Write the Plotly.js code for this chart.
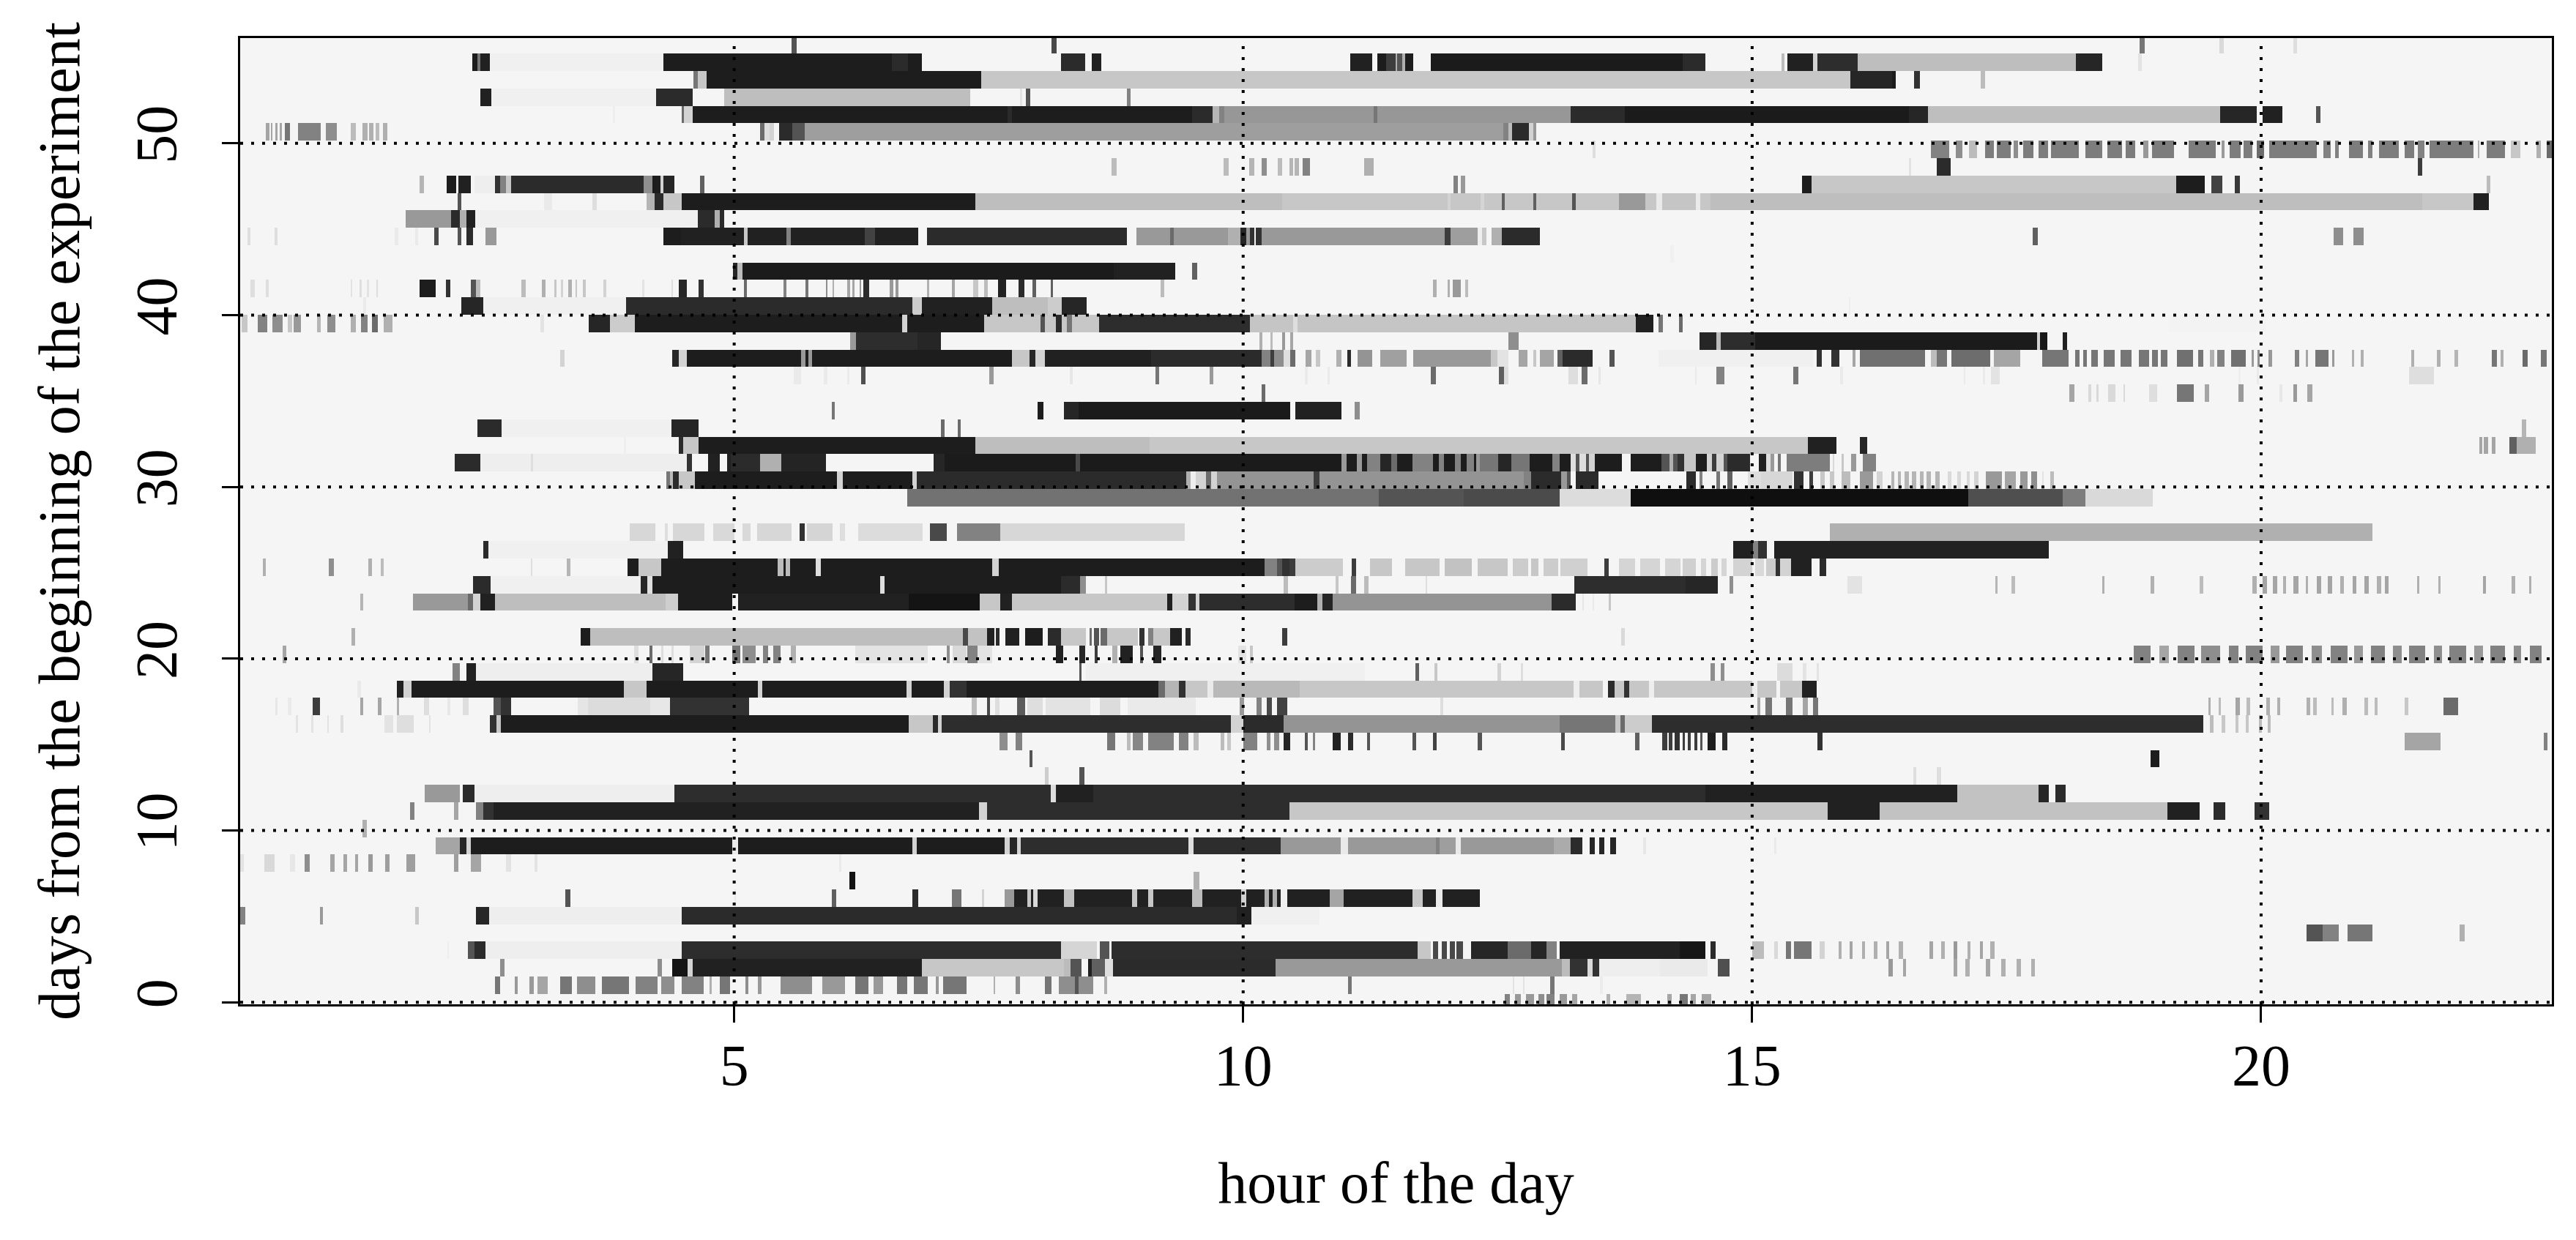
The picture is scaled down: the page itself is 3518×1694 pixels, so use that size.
<!DOCTYPE html>
<html>
<head>
<meta charset="utf-8">
<script src="https://cdn.plot.ly/plotly-3.0.1.min.js"></script>
<style>html,body{margin:0;padding:0;background:#fff}#chart{width:3518px;height:1694px}</style>
</head>
<body>
<div id="chart"></div>
<script>
// each day: flat list of [start hour, end hour, activity level 0-100], later runs overwrite earlier ones
const day55=[[5.57,5.62,70],[8.12,8.17,75],[18.81,18.86,55],[19.59,19.63,12],[20.32,20.36,10]];
const day54=[[2.424,2.475,94],[2.475,2.512,55],[2.512,2.6,92],[2.6,4.31,2],[4.31,6.55,94],[6.55,6.71,88],[6.71,6.84,94],[8.21,8.45,88],[8.52,8.61,92],[11.05,11.27,92],[11.32,11.41,94],[11.41,11.5,80],[11.5,11.52,30],[11.52,11.57,70],[11.57,11.59,30],[11.59,11.675,94],[11.84,14.32,95],[14.32,14.54,88],[15.29,15.32,25],[15.35,15.6,92],[15.6,15.64,15],[15.64,16.04,87],[16.04,18.18,24],[18.18,18.44,90],[18.79,18.83,8]];
const day53=[[4.6,4.64,55],[4.64,4.73,20],[4.73,7.425,94],[7.425,15.97,20],[15.97,16.375,90],[16.375,16.42,94],[16.59,16.65,85],[17.25,17.29,25]];
const day52=[[2.51,2.62,92],[2.62,4.23,2],[4.23,4.59,88],[4.9,7.315,24],[7.81,7.83,8],[7.87,7.91,70],[8.86,8.89,50]];
const day51=[[3.81,3.83,3],[4.48,4.51,60],[4.51,4.59,15],[4.59,9.5,94],[7.68,7.73,88],[9.5,9.7,88],[9.7,9.77,28],[9.77,9.82,50],[9.82,13.217,41],[11.28,11.32,55],[13.217,13.75,88],[13.75,16.54,95],[16.54,16.73,90],[16.73,19.6,24],[19.6,19.96,90],[20.02,20.21,92],[20.54,20.58,70]];
const day50=[[0.397,0.43,35],[0.45,0.47,35],[0.49,0.515,35],[0.53,0.56,35],[0.58,0.632,55],[0.713,0.94,50],[0.99,1.1,45],[1.235,1.28,25],[1.35,1.396,30],[1.418,1.455,30],[1.477,1.513,25],[1.55,1.594,30],[5.26,5.3,60],[5.3,5.35,10],[5.35,5.39,15],[5.44,5.577,88],[5.577,5.69,70],[5.69,12.556,38],[12.556,12.61,50],[12.61,12.64,25],[12.64,12.806,88],[12.806,12.85,15],[12.85,12.887,40]];
const day49=[[13.43,13.47,10],[16.76,16.94,50],[17.0,17.07,45],[17.13,17.21,25],[17.29,17.375,52],[17.41,17.54,52],[17.577,17.62,45],[17.67,17.77,52],[17.816,17.908,52],[17.944,18.209,52],[18.275,18.44,52],[18.488,18.634,52],[18.678,18.77,52],[18.844,18.891,40],[18.935,19.148,52],[19.295,19.56,52],[19.615,19.64,40],[19.688,19.798,52],[19.835,19.919,52],[19.956,20.03,60],[20.08,20.55,52],[20.617,20.68,50],[20.734,20.77,50],[20.863,21.0,52],[21.046,21.1,50],[21.156,21.358,52],[21.413,21.505,52],[21.54,21.608,50],[21.66,22.09,52],[22.13,22.15,30],[22.22,22.4,52],[22.46,22.55,20],[22.71,22.753,30],[22.81,22.863,60]];
const day48=[[8.71,8.755,25],[9.81,9.855,25],[10.06,10.105,28],[10.18,10.23,45],[10.34,10.38,25],[10.46,10.49,28],[10.51,10.55,28],[10.58,10.655,50],[11.195,11.28,30],[16.54,16.565,8],[16.82,16.95,88],[21.54,21.585,80]];
const day47=[[1.91,1.954,28],[2.174,2.27,94],[2.29,2.42,92],[2.45,2.65,3],[2.65,2.7,85],[2.7,2.76,50],[2.76,2.81,20],[2.81,4.11,88],[4.11,4.2,45],[4.2,4.275,94],[4.275,4.31,15],[4.31,4.42,90],[4.67,4.71,65],[12.07,12.11,50],[12.145,12.18,40],[15.49,15.585,94],[15.585,19.17,20],[19.17,19.45,94],[19.515,19.625,78],[19.74,19.79,82],[22.22,22.26,25]];
const day46=[[2.285,2.315,70],[3.136,3.21,5],[3.605,3.65,10],[4.145,4.22,28],[4.22,4.31,88],[4.31,4.48,20],[4.48,7.37,94],[7.37,10.38,24],[10.38,13.694,20],[12.006,12.04,15],[12.336,12.37,14],[12.538,12.575,65],[12.85,12.887,65],[13.235,13.27,70],[13.694,13.95,40],[13.95,14.06,20],[14.06,14.117,5],[14.117,14.447,21],[14.447,14.495,5],[14.495,14.594,20],[14.594,21.58,24],[21.58,22.09,20],[22.09,22.24,92]];
const day45=[[1.778,2.218,40],[2.218,2.31,88],[2.31,2.365,30],[2.365,2.457,92],[2.457,4.64,2],[4.64,4.806,88],[4.806,4.86,30],[4.86,4.9,88]];
const day44=[[0.218,0.254,10],[0.485,0.515,10],[1.67,1.7,5],[1.87,1.89,5],[2.053,2.097,75],[2.28,2.317,70],[2.365,2.43,88],[2.556,2.666,40],[4.31,4.476,94],[4.476,5.1,92],[5.1,5.137,20],[5.137,5.52,92],[5.52,5.56,50],[5.56,6.287,92],[6.287,6.386,78],[6.386,6.81,92],[6.893,8.857,88],[8.949,9.28,40],[9.28,9.316,60],[9.316,9.848,40],[9.848,9.977,30],[9.977,10.03,90],[10.03,10.07,40],[10.07,10.105,85],[10.124,10.186,85],[10.186,11.987,40],[11.987,12.04,80],[12.04,12.307,38],[12.307,12.354,3],[12.354,12.395,20],[12.44,12.54,30],[12.54,12.916,88],[17.76,17.805,65],[20.716,20.81,45],[20.91,21.01,45]];
const day43=[[14.2,14.23,2]];
const day42=[[4.99,5.03,90],[5.03,5.08,25],[5.08,8.73,95],[8.73,9.334,92],[9.5,9.55,65]];
const day41=[[0.254,0.29,10],[0.4,0.427,10],[1.23,1.25,8],[1.32,1.345,10],[1.395,1.42,8],[1.48,1.5,10],[1.906,2.064,94],[2.163,2.207,85],[2.42,2.468,70],[2.468,2.505,25],[2.908,2.95,25],[3.107,3.15,30],[3.23,3.255,20],[3.3,3.32,15],[3.364,3.41,30],[3.44,3.46,20],[3.52,3.545,20],[3.716,3.745,15],[4.1,4.12,8],[4.38,4.4,10],[4.457,4.53,90],[4.65,4.7,85],[5.1,5.125,60],[5.485,5.52,50],[5.7,5.735,55],[5.9,5.92,45],[5.965,5.986,30],[6.11,6.14,35],[6.16,6.185,35],[6.23,6.25,40],[6.27,6.324,88],[6.526,6.563,40],[6.58,6.618,40],[6.893,6.92,30],[7.14,7.17,35],[7.352,7.396,20],[7.455,7.49,25],[7.59,7.675,92],[7.79,7.85,88],[7.93,7.97,65],[8.105,8.13,65],[9.19,9.224,25],[11.866,11.9,30],[12.006,12.035,30],[12.06,12.145,40],[12.18,12.207,25]];
const day40=[[1.36,1.385,5],[2.317,2.53,90],[2.53,3.94,2],[3.94,6.746,88],[6.746,6.84,18],[6.84,7.535,92],[7.535,8.086,24],[8.086,8.215,18],[8.215,8.47,90],[15.95,15.97,3]];
const day39=[[0.155,0.217,20],[0.317,0.42,50],[0.464,0.566,45],[0.62,0.66,20],[0.676,0.742,40],[0.904,0.94,28],[1.0,1.08,45],[1.235,1.28,30],[1.33,1.4,50],[1.44,1.5,60],[1.557,1.64,30],[3.1,3.136,8],[3.577,3.78,90],[3.78,4.025,18],[4.025,7.462,94],[6.654,6.7,15],[7.462,8.58,20],[8.01,8.05,70],[8.16,8.215,88],[8.27,8.32,55],[8.58,10.07,87],[10.07,13.86,21],[10.49,10.53,10],[13.86,14.03,92],[14.08,14.127,55],[14.28,14.32,60],[19.1,20.05,1]];
const day38=[[6.14,6.196,40],[6.196,6.8,87],[6.8,7.03,90],[10.16,10.19,30],[10.27,10.29,25],[10.38,10.42,40],[10.47,10.495,35],[12.61,12.71,45],[14.483,14.65,90],[14.65,14.69,25],[14.69,15.03,87],[15.03,17.8,95],[17.8,17.834,15],[17.834,17.9,96],[18.047,18.1,92]];
const day37=[[3.29,3.33,15],[4.39,4.457,90],[4.457,4.53,15],[4.53,7.737,94],[5.66,5.7,40],[5.735,5.77,40],[7.737,7.9,20],[7.9,7.96,90],[7.96,8.05,15],[8.05,9.1,92],[9.1,10.18,88],[10.18,10.27,50],[10.27,10.31,80],[10.31,10.4,45],[10.4,10.465,10],[10.465,10.52,60],[10.62,10.675,35],[10.72,10.76,20],[10.913,10.97,30],[11.023,11.06,88],[11.126,11.27,42],[11.35,11.61,37],[11.675,12.43,40],[12.43,12.5,20],[12.5,12.61,8],[12.71,12.795,35],[12.85,12.88,20],[12.916,13.05,35],[13.09,13.144,65],[13.144,13.437,88],[13.6,13.647,70],[14.08,15.6,2],[15.63,15.68,85],[15.78,15.86,85],[15.99,16.015,35],[16.06,16.7,58],[16.76,16.82,25],[16.82,16.92,55],[16.96,17.34,59],[17.375,17.63,35],[17.85,18.11,55],[18.172,18.22,55],[18.256,18.293,55],[18.33,18.403,55],[18.458,18.568,55],[18.623,18.733,55],[18.796,18.9,55],[18.935,18.99,55],[19.016,19.082,55],[19.174,19.33,58],[19.383,19.43,55],[19.504,19.54,30],[19.578,19.64,50],[19.706,19.853,58],[19.908,19.934,40],[19.963,19.993,45],[20.073,20.11,40],[20.33,20.375,50],[20.44,20.47,35],[20.53,20.67,55],[20.7,20.727,40],[20.888,20.918,30],[20.984,21.01,30],[21.476,21.512,30],[21.733,21.77,30],[21.9,21.94,28],[22.27,22.313,55],[22.357,22.386,30],[22.577,22.625,60],[22.753,22.808,55]];
const day36=[[5.58,5.66,5],[5.885,5.915,5],[6.11,6.135,5],[6.25,6.295,72],[7.506,7.547,40],[8.3,8.325,6],[9.14,9.176,55],[9.676,9.71,40],[10.61,10.63,5],[10.83,10.85,5],[11.84,11.895,60],[12.52,12.567,65],[12.567,12.61,10],[13.2,13.29,10],[13.327,13.38,60],[13.49,13.52,6],[14.44,14.46,5],[14.65,14.73,50],[15.41,15.46,55],[15.87,15.89,5],[17.08,17.1,5],[17.265,17.29,5],[17.35,17.43,8],[19.78,19.8,3],[19.96,19.98,5],[21.46,21.7,10]];
const day35=[[10.18,10.215,60],[18.12,18.17,35],[18.31,18.33,12],[18.385,18.405,12],[18.5,18.576,12],[18.65,18.67,12],[18.9,18.98,10],[19.174,19.34,55],[19.45,19.495,35],[19.787,19.83,40],[20.18,20.21,6],[20.32,20.36,40],[20.46,20.506,35]];
const day34=[[5.957,5.994,55],[7.983,8.04,94],[8.244,8.38,90],[8.38,10.47,95],[10.516,10.97,92],[11.1,11.15,45]];
const day33=[[2.476,2.714,88],[2.714,4.385,2],[4.385,4.65,90],[7.03,7.066,60],[7.198,7.227,60],[22.57,22.61,28]];
const day32=[[3.92,3.94,3],[4.457,4.5,88],[4.5,4.65,20],[4.65,7.37,94],[7.37,9.08,24],[9.08,15.55,20],[15.55,15.83,92],[16.06,16.135,90],[22.15,22.175,35],[22.195,22.23,35],[22.27,22.31,35],[22.44,22.515,65],[22.515,22.7,30]];
const day31=[[2.255,2.51,88],[2.51,4.53,3],[3.0,3.025,10],[4.53,4.586,85],[4.745,4.855,92],[4.935,4.97,92],[4.97,5.258,88],[5.258,5.467,30],[5.467,5.9,91],[6.955,7.065,90],[7.065,10.968,95],[8.36,8.4,75],[10.968,11.016,40],[11.016,11.115,94],[11.115,11.17,40],[11.17,11.218,94],[11.218,11.353,50],[11.353,11.455,90],[11.455,11.52,60],[11.52,11.668,94],[11.668,11.866,50],[11.866,11.925,94],[11.925,11.976,50],[11.976,12.086,94],[12.086,12.145,50],[12.145,12.197,94],[12.197,12.263,50],[12.263,12.292,94],[12.292,12.329,40],[12.329,12.512,55],[12.512,12.63,90],[12.63,12.82,55],[12.82,13.04,94],[13.04,13.107,50],[13.107,13.217,94],[13.217,13.27,10],[13.27,13.31,70],[13.31,13.364,10],[13.364,13.4,70],[13.4,13.456,15],[13.456,13.724,94],[13.805,14.105,94],[14.105,14.19,70],[14.19,14.227,30],[14.227,14.263,70],[14.263,14.337,85],[14.337,14.447,20],[14.447,14.557,94],[14.557,14.612,15],[14.612,14.649,80],[14.649,14.722,15],[14.722,14.76,70],[14.76,14.98,88],[15.07,15.144,92],[15.144,15.18,10],[15.18,15.22,40],[15.255,15.284,55],[15.34,15.77,52],[15.79,15.805,12],[15.88,15.897,20],[15.977,16.025,40],[16.088,16.22,50]];
const day30=[[4.33,4.37,55],[4.37,4.4,25],[4.4,4.457,88],[4.457,4.62,20],[4.62,6.746,94],[6.01,6.067,15],[6.746,6.794,15],[6.794,9.445,88],[9.445,9.48,30],[9.48,9.536,3],[9.536,9.63,15],[9.63,9.683,60],[9.683,9.74,15],[9.74,10.69,42],[10.69,10.75,80],[10.75,12.758,42],[12.758,12.83,50],[12.83,13.125,88],[13.125,13.18,40],[13.18,13.217,70],[13.27,13.49,88],[14.355,14.447,88],[14.483,14.52,50],[14.65,14.686,55],[14.76,14.81,65],[14.96,15.09,10],[15.09,15.4,13],[15.42,15.51,85],[15.567,15.6,80],[15.677,15.713,20],[15.77,15.805,20],[15.88,15.97,25],[16.06,16.19,40],[16.227,16.28,15],[16.367,16.4,28],[16.43,16.466,28],[16.5,16.54,28],[16.576,16.613,28],[16.65,16.686,28],[16.72,16.76,28],[16.796,16.844,28],[16.925,16.96,12],[17.017,17.053,12],[17.108,17.145,12],[17.18,17.225,15],[17.3,17.46,40],[17.485,17.595,35],[17.63,17.705,40],[17.74,17.8,45],[17.85,17.87,8],[17.93,17.97,25]];
const day29=[[6.7,11.335,57],[11.335,12.17,70],[12.17,13.107,74],[13.107,13.805,11],[13.805,17.127,100],[17.127,18.054,72],[18.054,18.275,52],[18.275,18.94,12]];
const day28=[];
const day27=[[3.974,4.226,13],[4.32,4.35,10],[4.4,4.706,13],[4.79,5.0,12],[5.08,5.16,12],[5.225,5.563,13],[5.64,5.69,85],[5.715,5.97,14],[6.04,6.09,10],[6.22,6.85,11],[6.925,7.09,75],[7.19,7.617,50],[7.617,9.423,13],[15.77,21.1,30]];
const day26=[[2.536,2.586,88],[2.586,4.35,2],[4.35,4.5,92],[14.82,15.01,92],[15.01,15.06,50],[15.06,15.15,85],[15.215,17.92,92]];
const day25=[[0.367,0.4,30],[1.02,1.07,45],[1.41,1.44,30],[1.527,1.56,25],[3.0,3.02,10],[3.36,3.39,28],[3.95,4.06,94],[4.06,4.28,20],[4.28,10.205,94],[5.427,5.48,25],[5.51,5.55,25],[5.8,5.85,10],[7.536,7.6,15],[10.205,10.33,50],[10.33,10.38,70],[10.38,10.46,85],[10.46,10.52,80],[10.52,10.987,18],[11.07,11.11,80],[11.25,11.466,20],[11.59,11.935,20],[11.985,12.25,22],[12.31,12.6,20],[12.65,12.8,18],[12.83,12.9,20],[12.95,13.1,18],[13.12,13.38,16],[13.55,13.59,80],[13.69,13.85,14],[13.9,14.1,14],[14.15,14.3,14],[14.32,14.45,16],[14.5,14.55,14],[14.6,14.67,18],[14.7,14.75,14],[14.82,15.0,15],[15.03,15.12,12],[15.14,15.23,18],[15.235,15.275,85],[15.275,15.38,15],[15.38,15.58,92],[15.67,15.73,88]];
const day24=[[2.435,2.61,88],[2.61,4.085,2],[4.085,4.15,90],[4.15,4.2,10],[4.2,8.46,94],[6.436,6.476,10],[8.21,8.404,88],[8.404,8.46,45],[8.64,8.67,20],[10.4,10.44,25],[10.91,10.94,20],[11.06,11.11,60],[11.19,11.23,25],[11.79,11.81,10],[13.26,14.35,87],[14.35,14.67,90],[14.78,14.82,45],[15.94,16.08,8],[17.39,17.42,28],[17.55,17.58,25],[18.44,18.47,30],[18.92,18.95,30],[19.4,19.43,25],[19.92,19.96,30],[20.02,20.06,35],[20.12,20.16,35],[20.22,20.25,30],[20.32,20.37,35],[20.44,20.47,30],[20.55,20.59,35],[20.66,20.7,35],[20.78,20.82,30],[20.9,20.94,35],[21.02,21.06,35],[21.14,21.18,30],[21.22,21.26,35],[21.53,21.56,30],[21.74,21.77,30],[22.18,22.21,35],[22.47,22.5,30],[22.63,22.66,30]];
const day23=[[1.325,1.36,28],[1.845,2.385,40],[2.385,2.435,60],[2.435,2.51,15],[2.51,2.647,92],[2.647,4.327,24],[4.327,4.45,17],[4.45,4.98,94],[5.04,6.72,92],[6.72,7.415,98],[7.415,7.617,20],[7.617,7.73,92],[7.73,9.26,20],[9.26,9.31,92],[9.31,9.47,15],[9.47,9.53,85],[9.53,9.575,15],[9.575,10.51,87],[10.51,10.735,94],[10.735,10.785,30],[10.785,10.886,90],[10.886,13.03,42],[13.03,13.27,88],[13.33,13.35,6],[13.43,13.45,5],[13.59,13.62,20]];
const day22=[];
const day21=[[1.24,1.275,30],[3.495,3.58,94],[3.58,7.253,24],[7.253,7.3,75],[7.3,7.48,22],[7.48,7.56,92],[7.575,7.61,88],[7.67,7.8,92],[7.86,8.036,94],[8.086,8.212,88],[8.212,8.462,20],[8.49,8.52,60],[8.53,8.58,70],[8.6,8.666,60],[8.666,8.97,20],[8.98,9.03,85],[9.07,9.12,50],[9.12,9.28,20],[9.28,9.4,92],[9.43,9.484,88],[10.38,10.43,80],[13.72,13.75,12]];
const day20=[[0.568,0.6,35],[4.02,4.06,10],[4.166,4.2,60],[4.28,4.31,10],[4.38,4.41,10],[4.57,4.706,15],[4.72,4.76,55],[4.98,5.06,55],[5.08,5.21,45],[5.286,5.336,50],[5.386,5.46,50],[5.56,5.61,30],[6.19,6.9,8],[7.09,7.12,45],[7.15,7.28,12],[7.29,7.39,50],[7.39,7.53,8],[8.16,8.237,92],[8.389,8.454,90],[8.54,8.575,80],[8.72,8.77,30],[8.79,8.92,92],[8.994,9.02,70],[9.12,9.196,90],[9.95,10.03,8],[10.07,10.1,20],[18.75,18.92,50],[19.0,19.1,35],[19.18,19.35,50],[19.42,19.6,45],[19.68,19.78,50],[19.85,20.02,50],[20.1,20.18,40],[20.25,20.42,50],[20.5,20.6,45],[20.68,20.85,50],[20.92,21.0,40],[21.08,21.22,50],[21.3,21.38,45],[21.46,21.62,50],[21.7,21.78,45],[21.85,22.02,50],[22.1,22.18,40],[22.26,22.4,50],[22.48,22.56,45],[22.64,22.76,50]];
const day19=[[2.23,2.31,50],[2.37,2.47,92],[2.47,4.2,3],[4.2,4.5,90],[8.39,8.415,70],[8.46,11.2,2],[11.69,11.73,65],[11.88,11.91,20],[12.5,12.53,15],[12.73,12.75,10],[14.595,14.63,45],[14.695,14.73,45],[15.25,15.4,11],[15.5,15.53,8],[15.63,15.66,8]];
const day18=[[1.3,1.33,5],[1.68,1.754,92],[1.754,1.83,15],[1.83,3.913,94],[3.913,4.14,20],[4.14,5.235,94],[5.235,5.276,15],[5.276,6.69,94],[6.69,6.74,15],[6.74,7.06,94],[7.06,7.117,15],[7.117,7.28,85],[7.28,9.17,94],[9.17,9.23,60],[9.23,9.37,28],[9.37,9.43,85],[9.43,9.65,20],[9.65,9.71,5],[9.71,10.56,26],[10.56,13.25,20],[13.25,13.31,3],[13.31,13.535,20],[13.585,13.65,88],[13.65,13.74,20],[13.74,13.79,85],[13.79,13.99,20],[13.99,14.04,3],[14.04,15.0,20],[15.0,15.05,3],[15.05,15.24,20],[15.275,15.49,20],[15.49,15.63,92]];
const day17=[[0.49,0.52,6],[0.62,0.65,5],[0.856,0.937,80],[1.325,1.36,35],[1.5,1.53,35],[1.68,1.71,30],[1.95,2.0,10],[2.18,2.21,6],[2.33,2.39,10],[2.637,2.71,70],[2.71,2.81,85],[3.47,3.57,7],[3.57,4.176,11],[4.176,4.37,6],[4.37,5.15,85],[7.33,7.38,25],[7.48,7.515,75],[7.57,7.61,10],[7.78,7.86,67],[7.88,8.03,10],[8.06,8.5,8],[8.59,8.79,11],[8.87,9.53,5],[9.97,10.01,40],[10.13,10.18,50],[10.23,10.28,75],[10.33,10.43,78],[11.94,11.97,10],[15.05,15.085,35],[15.13,15.2,55],[15.33,15.4,55],[15.5,15.55,35],[15.6,15.65,55],[19.48,19.51,30],[19.58,19.61,25],[19.75,19.79,35],[19.86,19.89,25],[20.05,20.09,30],[20.16,20.19,30],[20.45,20.48,30],[20.52,20.55,25],[20.69,20.72,25],[20.8,20.84,30],[21.02,21.05,25],[21.12,21.15,25],[21.42,21.45,20],[21.79,21.94,60]];
const day16=[[0.69,0.72,8],[0.84,0.87,8],[1.0,1.02,8],[1.13,1.16,10],[1.57,1.65,8],[1.68,1.85,10],[2.0,2.02,8],[2.6,2.67,85],[2.67,2.71,20],[2.71,6.72,94],[6.72,6.95,20],[6.95,7.0,88],[7.0,7.04,15],[7.04,9.88,87],[9.88,10.0,15],[10.0,10.4,88],[10.4,13.106,42],[13.106,13.66,55],[13.66,13.71,20],[13.71,13.75,60],[13.75,14.02,18],[14.02,19.43,87],[19.5,19.53,25],[19.62,19.65,20],[19.75,19.78,20],[19.85,19.88,20],[19.98,20.01,25],[20.07,20.1,25]];
const day15=[[7.607,7.68,45],[7.77,7.83,50],[8.666,8.74,55],[8.86,8.895,25],[8.92,9.02,48],[9.07,9.32,50],[9.37,9.47,50],[9.52,9.565,25],[9.78,9.82,25],[9.84,9.88,20],[10.0,10.14,50],[10.23,10.27,45],[10.31,10.36,45],[10.4,10.47,90],[10.61,10.634,70],[10.685,10.71,50],[10.886,10.96,92],[11.03,11.08,88],[11.214,11.25,70],[11.67,11.7,70],[11.87,11.9,78],[12.31,12.35,70],[13.127,13.157,75],[13.85,13.89,65],[14.115,14.166,80],[14.18,14.216,80],[14.24,14.29,85],[14.317,14.34,80],[14.367,14.4,80],[14.433,14.468,80],[14.49,14.52,70],[14.57,14.645,94],[14.71,14.76,88],[15.64,15.69,85],[21.42,21.77,35],[22.78,22.82,50]];
const day14=[[7.9,7.93,70],[18.92,19.0,94]];
const day13=[[8.05,8.09,18],[8.39,8.44,70],[16.58,16.62,10],[16.82,16.86,10]];
const day12=[[1.956,2.31,40],[2.334,2.45,88],[2.45,4.42,3],[4.42,14.54,87],[8.11,8.16,10],[8.17,8.525,92],[14.54,17.02,92],[17.02,17.82,22],[17.82,17.92,90],[17.98,18.08,88]];
const day11=[[1.815,1.855,50],[2.25,2.29,35],[2.47,2.535,50],[2.535,2.636,85],[2.636,7.405,92],[7.405,7.48,15],[7.48,10.457,87],[10.457,15.74,20],[15.74,16.26,92],[16.26,19.08,22],[19.08,19.4,92],[19.53,19.65,88],[19.94,20.08,85]];
const day10=[[1.35,1.39,30]];
const day9=[[2.067,2.31,35],[2.31,2.37,90],[2.37,2.42,15],[2.42,4.98,94],[4.98,5.04,5],[5.04,6.75,94],[6.75,6.79,15],[6.79,7.66,94],[7.66,7.71,15],[7.71,7.78,90],[7.78,7.82,15],[7.82,9.47,87],[9.47,9.514,10],[9.514,10.37,87],[10.37,10.96,40],[10.96,11.03,5],[11.03,11.895,40],[11.895,11.935,50],[11.935,12.09,38],[12.09,12.14,5],[12.14,13.05,40],[13.05,13.217,32],[13.217,13.33,88],[13.41,13.46,90],[13.5,13.55,90],[13.61,13.67,90],[13.93,13.96,6],[15.22,15.24,5]];
const day8=[[0.15,0.18,8],[0.38,0.48,12],[0.63,0.68,6],[0.785,0.836,45],[1.037,1.078,35],[1.16,1.2,35],[1.275,1.31,35],[1.41,1.45,40],[1.577,1.618,38],[1.78,1.865,38],[2.25,2.29,38],[2.42,2.52,35],[2.76,2.81,8],[3.04,3.07,8],[6.03,6.05,5]];
const day7=[[6.13,6.19,98],[9.52,9.575,30]];
const day6=[[3.343,3.39,70],[5.0,5.02,5],[5.957,6.0,65],[6.75,6.81,88],[7.14,7.23,55],[7.43,7.46,15],[7.75,12.325,92],[7.66,7.75,40],[7.88,7.92,20],[7.94,7.98,12],[8.24,8.34,22],[8.91,8.96,20],[9.07,9.12,20],[9.5,9.6,25],[9.98,10.03,15],[10.205,10.255,30],[10.29,10.33,30],[10.37,10.43,2],[10.85,10.99,35],[11.67,11.77,20],[11.895,11.96,5]];
const day5=[[0.14,0.2,50],[0.937,0.96,40],[1.87,1.9,20],[2.47,2.59,90],[2.59,4.48,3],[4.48,9.94,88],[9.94,10.08,92],[10.08,10.75,2]];
const day4=[[20.45,20.61,70],[20.61,20.77,50],[20.85,21.1,55],[21.95,22.0,30]];
const day3=[[2.18,2.2,3],[2.385,2.45,70],[2.45,2.56,88],[2.56,4.48,3],[4.48,8.21,87],[8.21,8.565,14],[8.59,8.68,70],[8.707,11.72,87],[11.72,11.845,20],[11.87,11.92,75],[11.95,12.0,75],[12.03,12.08,75],[12.1,12.16,75],[12.24,12.6,90],[12.6,12.83,60],[12.83,12.98,90],[12.98,13.08,50],[13.106,14.29,92],[14.29,14.54,97],[14.595,14.645,88],[15.0,15.12,25],[15.22,15.26,12],[15.33,15.38,55],[15.42,15.58,55],[15.67,15.72,15],[15.85,15.88,30],[15.96,15.99,35],[16.08,16.11,30],[16.2,16.23,30],[16.32,16.35,35],[16.44,16.48,30],[16.74,16.78,35],[16.86,16.89,30],[16.98,17.02,40],[17.12,17.15,30],[17.24,17.27,35],[17.34,17.38,30]];
const day2=[[2.7,2.74,45],[4.25,4.29,45],[4.39,4.54,98],[4.54,4.59,15],[4.59,6.84,92],[6.84,8.24,20],[8.24,8.31,25],[8.31,8.42,70],[8.475,8.515,92],[8.515,8.64,65],[8.64,8.727,10],[8.727,10.32,88],[10.32,13.13,40],[13.13,13.21,25],[13.21,13.38,85],[13.38,13.43,12],[13.43,13.5,85],[13.5,14.1,3],[14.1,14.57,5],[14.67,14.78,72],[16.34,16.38,40],[16.48,16.52,35],[16.98,17.02,35],[17.1,17.14,30],[17.3,17.34,35],[17.45,17.49,30],[17.6,17.64,30],[17.74,17.78,30]];
const day1=[[2.65,2.7,55],[2.84,2.875,40],[2.99,3.03,40],[3.07,3.17,35],[3.29,3.41,55],[3.46,3.63,45],[3.7,3.97,55],[4.03,4.25,50],[4.28,4.42,45],[4.48,4.7,50],[4.76,4.78,30],[4.86,4.96,55],[5.11,5.14,45],[5.23,5.27,40],[5.46,5.77,45],[5.87,6.09,40],[6.19,6.32,55],[6.37,6.47,40],[6.6,6.7,55],[6.77,6.9,55],[6.98,7.01,40],[7.05,7.28,55],[7.55,7.57,30],[7.77,7.81,45],[8.05,8.12,55],[8.19,8.525,45],[8.35,8.385,70],[8.63,8.67,30],[11.03,11.07,55],[12.65,12.67,8],[12.75,12.77,8],[13.02,13.055,55],[13.51,13.53,4]];
const day0=[[12.576,12.627,50],[12.677,12.73,40],[12.78,12.855,40],[12.9,12.955,45],[12.98,13.055,50],[13.106,13.18,40],[13.23,13.28,35],[13.575,13.61,30],[13.77,13.91,28],[14.17,14.21,35],[14.29,14.37,55],[14.4,14.45,35],[14.51,14.6,35]];

const dayRuns=[day0,day1,day2,day3,day4,day5,day6,day7,day8,day9,day10,day11,day12,day13,day14,day15,day16,day17,day18,day19,day20,day21,day22,day23,day24,day25,day26,day27,day28,day29,day30,day31,day32,day33,day34,day35,day36,day37,day38,day39,day40,day41,day42,day43,day44,day45,day46,day47,day48,day49,day50,day51,day52,day53,day54,day55];
const xTicks=[5,10,15,20];
const yTicks=[0,10,20,30,40,50];

const binsPerHour=120, hourCount=23;
const nCols=binsPerHour*hourCount;
const z=dayRuns.map(runs=>{
  const row=new Array(nCols).fill(0);
  runs.forEach(([a,b,v])=>{
    const i0=Math.round(a*binsPerHour), i1=Math.max(Math.round(b*binsPerHour),i0+1);
    for(let i=i0;i<i1&&i<nCols;i++) row[i]=v;
  });
  return row;
});

const grid={type:'line',line:{color:'#000',width:4,dash:'4px,11px'},layer:'above'};
const shapes=[
  ...xTicks.map(v=>({...grid,xref:'x',yref:'paper',x0:v,x1:v,y0:0,y1:1})),
  ...yTicks.map(v=>({...grid,xref:'paper',yref:'y',x0:0,x1:1,y0:v,y1:v}))
];
const font={family:'"Liberation Serif","Times New Roman",serif',color:'#000',size:80};

Plotly.newPlot('chart',[{
  type:'heatmap',z:z,x0:0.5/binsPerHour,dx:1/binsPerHour,y0:0,dy:1.0133,
  zmin:0,zmax:100,colorscale:[[0,'rgb(245,245,245)'],[1,'rgb(15,15,15)']],
  showscale:false,hoverinfo:'skip',zsmooth:false
}],{
  width:3518,height:1694,autosize:false,
  margin:{l:328,r:33,t:52,b:322,pad:0},
  paper_bgcolor:'#fff',plot_bgcolor:'#f5f5f5',font:font,showlegend:false,
  xaxis:{range:[0.147,22.856],tickmode:'array',tickvals:xTicks,ticktext:xTicks.map(String),
    ticks:'outside',ticklen:22,tickwidth:3,tickcolor:'#000',showgrid:false,zeroline:false,ticklabelstandoff:-10,
    showline:true,linecolor:'#000',linewidth:3,mirror:true,layer:'above traces',tickfont:font,
    title:{text:'hour of the day',font:font,standoff:88}},
  yaxis:{range:[-0.115,56.13],tickmode:'array',tickvals:yTicks,ticktext:yTicks.map(String),tickangle:-90,
    ticks:'outside',ticklen:22,tickwidth:3,tickcolor:'#000',showgrid:false,zeroline:false,ticklabelstandoff:30,
    showline:true,linecolor:'#000',linewidth:3,mirror:true,layer:'above traces',tickfont:font,
    title:{text:'days from the beginning of the experiment',font:font,standoff:36}},
  shapes:shapes
},{displayModeBar:false,staticPlot:true});
</script>
</body>
</html>
